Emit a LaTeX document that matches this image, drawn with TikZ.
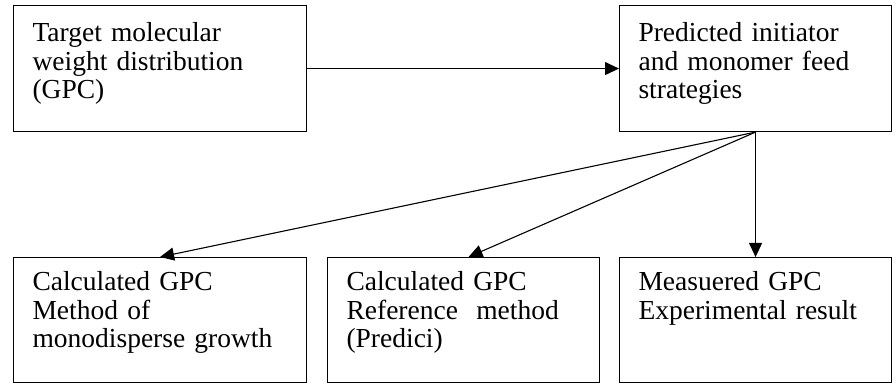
\documentclass[tikz,border=0pt]{standalone}
\usepackage{fontspec}
\setmainfont{Liberation Serif}
\usetikzlibrary{arrows.meta}

\begin{document}
\begin{tikzpicture}[x=0.5pt,y=-0.5pt,line width=0.55pt]
    \tikzstyle{every node}+=[inner xsep=9.5pt, inner ysep=0pt, align=left, font=\fontsize{13.75pt}{14.25pt}\selectfont]
    \tikzstyle{topbox}=[draw, anchor=north west, text height=18pt, text depth=45pt]
    \tikzstyle{lowbox}=[draw, anchor=north west, text width=117pt, text height=16.5pt, text depth=46pt]
    \tikzstyle{feedarrow}=[-{Triangle[length=7pt,width=6.5pt]}]
    \useasboundingbox (0,0) rectangle (896,385);
    % top row
    \node [topbox, text width=127.5pt] (target) at (13,5) {Target molecular\\weight distribution\\(GPC)};
    \node [topbox, text width=117pt] (feed) at (619,5) {Predicted initiator\\and monomer feed\\strategies};
    % bottom row
    \node [lowbox, text width=127.5pt] (mono) at (13,257) {Calculated GPC\\Method of\\monodisperse growth};
    \node [lowbox] (predici) at (327,257) {Calculated GPC\\Reference\ \ method\\(Predici)};
    \node [lowbox] (measured) at (619,257) {Measuered GPC\\Experimental result};
    % arrows
    \draw [feedarrow] (target) -- (feed);
    \draw [feedarrow] (feed.south) -- (mono.north);
    \draw [feedarrow] (feed.south) -- ([xshift=2.5pt]predici.north);
    \draw [feedarrow] (feed.south) -- (measured.north);
\end{tikzpicture}
\end{document}
